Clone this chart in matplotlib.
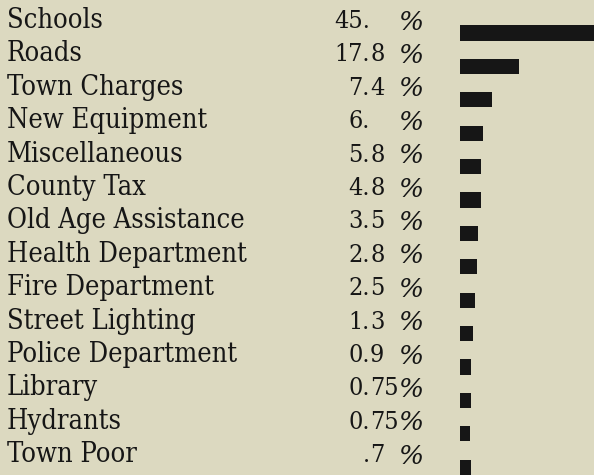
import matplotlib
matplotlib.use("Agg")
import matplotlib.pyplot as plt
from matplotlib import font_manager

# Distribution of the town tax dollar (scanned table with bars)

items = ["Schools", "Roads", "Town Charges", "New Equipment", "Miscellaneous",
         "County Tax", "Old Age Assistance", "Health Department", "Fire Department",
         "Street Lighting", "Police Department", "Library", "Hydrants", "Town Poor"]
value_labels = ["45.", "17.8", "7.4", "6.", "5.8", "4.8", "3.5", "2.8", "2.5",
                "1.3", "0.9", "0.75", "0.75", ".7"]
# bar lengths as drawn in the original (percent scale, small ones are padded)
bar_lengths = [45.0, 17.8, 9.7, 6.9, 6.3, 6.3, 5.4, 5.1, 4.5, 3.9, 3.3, 3.3, 3.0, 3.3]

W, H = 594, 475
bg = "#dcd9c0"
ink = "#161616"

fig = plt.figure(figsize=(W / 100, H / 100), dpi=100, facecolor=bg)

# row i has its text baseline at 28 + 33.4*i pixels from the top
top = -28 / 33.4
bottom = (H - 28) / 33.4

ax = fig.add_axes([0, 0, 1, 1])
ax.set_xlim(0, W)
ax.set_ylim(bottom, top)
ax.axis("off")

bar_left = 460
axb = fig.add_axes([bar_left / W, 0, (W - bar_left) / W, 1])
axb.set_xlim(0, (W - bar_left) / 3.31)
axb.set_ylim(bottom, top)
axb.axis("off")

cond = [f.fname for f in font_manager.fontManager.ttflist
        if f.name == "DejaVu Serif" and f.stretch == "condensed" and f.style == "normal"
        and f.weight in (400, "normal")]
if cond:
    fp = font_manager.FontProperties(fname=cond[0], size=19.5)
    fp_num = font_manager.FontProperties(fname=cond[0], size=18)
else:
    fp = font_manager.FontProperties(family="DejaVu Serif", size=17)
    fp_num = font_manager.FontProperties(family="DejaVu Serif", size=16)
fp_pct = font_manager.FontProperties(family="DejaVu Serif", style="italic", size=19)

for i, name in enumerate(items):
    ax.text(7, i, name, fontproperties=fp, color=ink, va="baseline", ha="left")
    whole, frac = value_labels[i].split(".")
    ax.text(370, i, whole + ".", fontproperties=fp_num, color=ink,
            va="baseline", ha="right")
    if frac:
        ax.text(370, i, frac, fontproperties=fp_num, color=ink,
                va="baseline", ha="left")
    ax.text(398, i + 0.05, "%", fontproperties=fp_pct, color=ink,
            va="baseline", ha="left")

axb.barh([i + 0.15 for i in range(len(items))], bar_lengths, height=0.45,
         left=0, color=ink, edgecolor="none")

fig.savefig("out.png", dpi=100, facecolor=bg)
